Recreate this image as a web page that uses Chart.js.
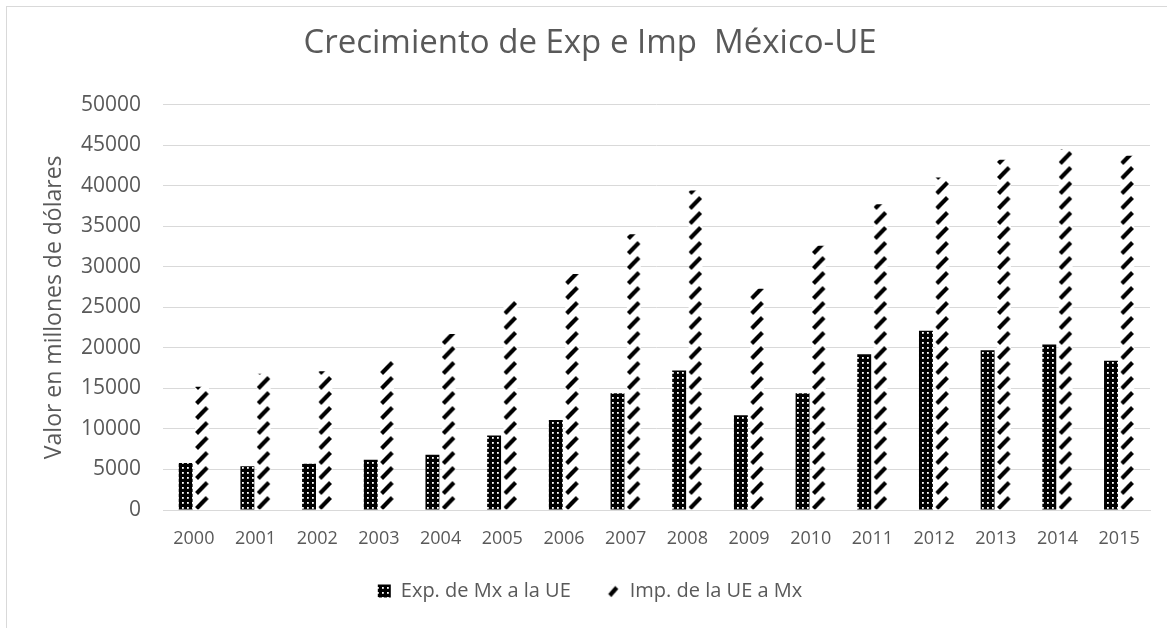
<!DOCTYPE html>
<html>
<head>
<meta charset="utf-8">
<script src="https://cdn.jsdelivr.net/npm/chart.js@4.4.0/dist/chart.umd.min.js"></script>
<style>
  body { margin: 0; background: #fff; }
  #frame { position: absolute; left: 6px; top: 6px; width: 1300px; height: 700px;
           border-left: 1px solid #d9d9d9; border-top: 1px solid #d9d9d9; }
  #chart { position: absolute; left: 0; top: 0; }
</style>
</head>
<body>
<div id="frame"></div>
<canvas id="chart" width="1167" height="628"></canvas>
<script>
const years = ['2000', '2001', '2002', '2003', '2004', '2005', '2006', '2007',
               '2008', '2009', '2010', '2011', '2012', '2013', '2014', '2015'];
const expMxUe = [5800, 5400, 5700, 6200, 6800, 9200, 11100, 14400,
                 17200, 11700, 14400, 19200, 22100, 19700, 20400, 18400];
const impUeMx = [15200, 16800, 17100, 18500, 21700, 25900, 29100, 34000,
                 39400, 27300, 32600, 37700, 41000, 43200, 44500, 43700];
const yTicks = [0, 5000, 10000, 15000, 20000, 25000, 30000, 35000, 40000, 45000, 50000];

const textColor = '#595959';
const font = 'Open Sans';

// black with white dots
function dotPattern() {
    const c = document.createElement('canvas');
    c.width = 5; c.height = 5;
    const g = c.getContext('2d');
    g.fillStyle = '#000';
    g.fillRect(0, 0, 5, 5);
    g.fillStyle = '#fff';
    g.fillRect(2, 2, 1.8, 1.8);
    return g.createPattern(c, 'repeat');
}

// white tile with one diagonal dash at (x0, y0)-(x1, y1)
function dashTile(w, h, x0, y0, x1, y1) {
    const c = document.createElement('canvas');
    c.width = w; c.height = h;
    const g = c.getContext('2d');
    g.fillStyle = '#fff';
    g.fillRect(0, 0, w, h);
    g.strokeStyle = '#000';
    g.lineWidth = 4.2;
    g.beginPath();
    g.moveTo(x0, y0);
    g.lineTo(x1, y1);
    g.stroke();
    return g.createPattern(c, 'repeat');
}

const TILE_W = 64;
const dots = dotPattern();
const dashes = dashTile(TILE_W, 15, 1.5, 13.5, 12.5, 2.5);
const legendDash = dashTile(13, 13, 3, 11, 10, 3);

// line the dash tiles up with the import bars and the legend box
const alignDashes = {
    id: 'alignDashes',
    afterLayout(chart) {
        const xs = chart.scales.x;
        xs.bottom = xs.top + 60; // room for the tick labels
    },
    beforeDatasetsDraw(chart) {
        const bars = chart.getDatasetMeta(1).data;
        if (bars.length < 2) return;
        const step = bars[1].x - bars[0].x;
        const left = bars[0].x - bars[0].width / 2;
        dashes.setTransform(new DOMMatrix().translate(left, 0).scale(step / TILE_W, 1));
    },
    beforeDraw(chart) {
        const hb = chart.legend && chart.legend.legendHitBoxes[1];
        if (hb) legendDash.setTransform(new DOMMatrix().translate(hb.left, hb.top + (hb.height - 13) / 2));
    }
};

const ctx = document.getElementById('chart').getContext('2d');
new Chart(ctx, {
    type: 'bar',
    data: {
        labels: years,
        datasets: [
            {
                label: 'Exp. de Mx a la UE',
                data: expMxUe,
                backgroundColor: dots,
                borderWidth: 0,
                barPercentage: 0.85,
                categoryPercentage: 0.53
            },
            {
                label: 'Imp. de la UE a Mx',
                data: impUeMx,
                backgroundColor: dashes,
                borderWidth: 0,
                barPercentage: 0.85,
                categoryPercentage: 0.53
            }
        ]
    },
    plugins: [alignDashes],
    options: {
        responsive: false,
        animation: false,
        layout: { padding: { left: 30, right: 17, top: 0, bottom: 17 } },
        plugins: {
            title: {
                display: true,
                text: 'Crecimiento de Exp e Imp  México-UE',
                color: textColor,
                font: { family: font, size: 33, weight: 'normal' },
                padding: { top: 24, bottom: 41 }
            },
            legend: {
                position: 'bottom',
                labels: {
                    color: textColor,
                    font: { family: font, size: 20 },
                    boxWidth: 13,
                    boxHeight: 13,
                    padding: 36,
                    generateLabels: chart => {
                        const items = Chart.defaults.plugins.legend.labels.generateLabels(chart);
                        items.forEach(it => { it.lineWidth = 0; });
                        if (items[1]) items[1].fillStyle = legendDash;
                        return items;
                    }
                }
            },
            tooltip: { enabled: false }
        },
        scales: {
            x: {
                grid: { display: false, drawTicks: false },
                border: { display: true, color: '#d9d9d9' },
                ticks: { color: textColor, font: { family: font, size: 18 }, padding: 18, maxRotation: 0 },
                afterFit: s => { s.height = 35; }
            },
            y: {
                min: 0,
                max: 50000,
                afterBuildTicks: s => { s.ticks = yTicks.map(v => ({ value: v })); },
                grid: { color: '#d9d9d9', drawTicks: false },
                border: { display: false },
                ticks: {
                    color: textColor,
                    font: { family: font, size: 21 },
                    padding: 22,
                    callback: v => String(v)
                },
                title: {
                    display: true,
                    text: 'Valor en millones de dólares',
                    color: textColor,
                    font: { family: font, size: 23 },
                    padding: { top: 11, bottom: 0 }
                },
                afterFit: s => { s.width = 133; }
            }
        }
    }
});
</script>
</body>
</html>
